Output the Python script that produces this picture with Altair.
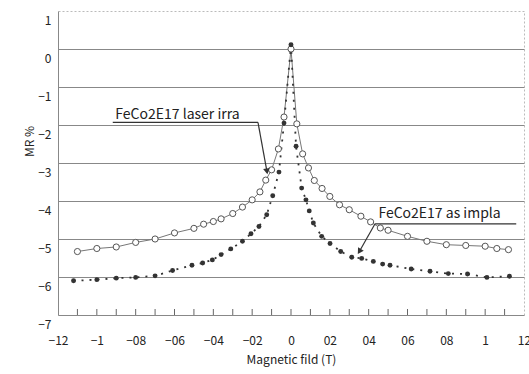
import altair as alt
import pandas as pd

# Series: FeCo2E17 laser irra (open circles)
laser_x = [-1.1, -1.0, -0.9, -0.8, -0.7, -0.6, -0.5, -0.45, -0.4, -0.36, -0.3, -0.25, -0.2, -0.16,
           -0.13, -0.1, -0.065, -0.036, 0.0, 0.03, 0.06, 0.09, 0.12, 0.16, 0.2, 0.25, 0.3, 0.36,
           0.41, 0.46, 0.5, 0.6, 0.7, 0.8, 0.9, 1.0, 1.06, 1.12]
laser_y = [-5.33, -5.25, -5.21, -5.09, -5.0, -4.84, -4.72, -4.61, -4.54, -4.47, -4.33, -4.16, -3.97, -3.76,
           -3.45, -3.18, -2.63, -1.79, 0.0, -1.97, -2.76, -3.13, -3.46, -3.67, -3.88, -4.10, -4.23, -4.40,
           -4.55, -4.71, -4.77, -4.93, -5.06, -5.15, -5.17, -5.19, -5.25, -5.28]

# Series: FeCo2E17 as impla (filled dots)
impla_x = [-1.12, -1.0, -0.9, -0.8, -0.7, -0.61, -0.51, -0.455, -0.405, -0.36, -0.31, -0.25, -0.206, -0.165,
           -0.125, -0.094, -0.062, -0.036, 0.0, 0.026, 0.055, 0.077, 0.094, 0.115, 0.158, 0.201, 0.256,
           0.313, 0.364, 0.424, 0.472, 0.51, 0.619, 0.716, 0.81, 0.909, 1.009, 1.125]
impla_y = [-6.10, -6.07, -6.03, -6.01, -5.97, -5.83, -5.69, -5.63, -5.55, -5.41, -5.26, -5.06, -4.86, -4.67,
           -4.36, -3.86, -3.24, -1.95, 0.11, -2.56, -3.66, -3.97, -4.26, -4.58, -4.93, -5.12, -5.33,
           -5.48, -5.51, -5.59, -5.66, -5.69, -5.79, -5.85, -5.91, -5.92, -6.01, -5.98]

x_label_values = [-1.2, -1.0, -0.8, -0.6, -0.4, -0.2, 0.0, 0.2, 0.4, 0.6, 0.8, 1.0, 1.2]
x_minor_ticks = [-1.1, -1.0, -0.9, -0.8, -0.7, -0.6, -0.5, -0.4, -0.3, -0.2, -0.1, 0.0,
                 0.1, 0.2, 0.3, 0.4, 0.5, 0.6, 0.7, 0.8, 0.9, 1.0, 1.1]
y_values = [-7, -6, -5, -4, -3, -2, -1, 0, 1]

# Annotations
ann_text = ["FeCo2E17 laser irra", "FeCo2E17 as impla"]
ann_text_x = [-0.905, 0.45]
ann_text_y = [-1.83, -4.45]
ann_line_x1 = [-0.918, 0.433]
ann_line_x2 = [-0.170, 1.16]
ann_line_y = [-1.93, -4.60]
ann_arrow_start_x = [-0.170, 0.433]
ann_tip_x = [-0.124, 0.352]
ann_tip_y = [-3.22, -5.33]
ann_head_angle = [350, 32]

FONT = "Noto Sans CJK JP"

laser = pd.DataFrame({"x": laser_x, "y": laser_y})
impla = pd.DataFrame({"x": impla_x, "y": impla_y})
ticks = pd.DataFrame({"x": x_minor_ticks, "y": [-7] * len(x_minor_ticks)})
ann = pd.DataFrame({
    "text": ann_text, "tx": ann_text_x, "ty": ann_text_y,
    "lx1": ann_line_x1, "lx2": ann_line_x2, "ly": ann_line_y,
    "ax": ann_arrow_start_x, "px": ann_tip_x, "py": ann_tip_y,
    "angle": ann_head_angle,
})

xscale = alt.Scale(domain=[-1.2, 1.2], nice=False, zero=False)
yscale = alt.Scale(domain=[-7, 1], nice=False, zero=False)

xaxis = alt.Axis(
    values=x_label_values, tickCount=40, title="Magnetic fild (T)",
    labelExpr="replace(format(datum.value, '.1~f'), '.', '')",
    labelOverlap=False, labelFlush=False,
    grid=False, ticks=False, domainColor="#888", labelPadding=20,
    labelFont=FONT, labelFontSize=12, labelColor="#222",
    titleFont=FONT, titleFontSize=12, titleFontWeight="normal", titleColor="#222",
    titlePadding=8,
)
yaxis = alt.Axis(
    values=y_values, tickCount=40, format="d", title="MR %", grid=True, ticks=False,
    labelOverlap=False, labelFlush=False,
    gridColor="#888", gridWidth=1,
    gridOpacity=alt.condition("datum.value >= 1 || datum.value <= -7", alt.value(0), alt.value(1)),
    domainColor="#888", labelPadding=7, labelOffset=9,
    labelFont=FONT, labelFontSize=12, labelColor="#222",
    titleFont=FONT, titleFontSize=12, titleFontWeight="normal", titleColor="#222",
    titleX=-29, titleY=130, titleAngle=270, titleAlign="center", titleBaseline="middle",
)

laser_line = alt.Chart(laser).mark_line(color="#777", strokeWidth=1).encode(
    x=alt.X("x:Q", scale=xscale, axis=xaxis),
    y=alt.Y("y:Q", scale=yscale, axis=yaxis),
)
laser_pts = alt.Chart(laser).mark_point(shape="circle", filled=True, fill="white",
                                         stroke="#555", strokeWidth=1, size=38, opacity=1).encode(
    x="x:Q", y="y:Q")
impla_line = alt.Chart(impla).mark_line(color="#333", strokeWidth=1.8, strokeDash=[2, 6]).encode(
    x="x:Q", y="y:Q")
impla_pts = alt.Chart(impla).mark_circle(color="#333", size=24, opacity=1).encode(
    x="x:Q", y="y:Q")
tick_marks = alt.Chart(ticks).mark_tick(orient="vertical", size=6, thickness=1,
                                        color="#666", yOffset=-3, opacity=1).encode(x="x:Q", y="y:Q")

ann_txt = alt.Chart(ann).mark_text(align="left", baseline="alphabetic", font=FONT,
                                   fontSize=14, color="#222").encode(
    x="tx:Q", y="ty:Q", text="text:N")
ann_under = alt.Chart(ann).mark_rule(color="#333", strokeWidth=1.2).encode(
    x="lx1:Q", x2="lx2:Q", y="ly:Q", y2="ly:Q")
ann_arrow = alt.Chart(ann).mark_rule(color="#333", strokeWidth=1.2).encode(
    x="ax:Q", x2="px:Q", y="ly:Q", y2="py:Q")
ann_head = alt.Chart(ann).mark_point(shape="triangle-down", filled=True, color="#333",
                                      size=45, opacity=1).encode(
    x="px:Q", y="py:Q", angle=alt.Angle("angle:Q", scale=None))

chart = alt.layer(
    laser_line, impla_line, laser_pts, impla_pts, tick_marks,
    ann_under, ann_arrow, ann_head, ann_txt,
).properties(
    width=466, height=304,
    autosize=alt.AutoSizeParams(type="none"),
    padding={"left": 58, "top": 11, "right": 5, "bottom": 59},
    background="white",
).configure_view(stroke="#bbb", strokeDash=[2, 2], strokeWidth=1)

chart.save("out.html", embed_options={"renderer": "svg", "actions": False})
